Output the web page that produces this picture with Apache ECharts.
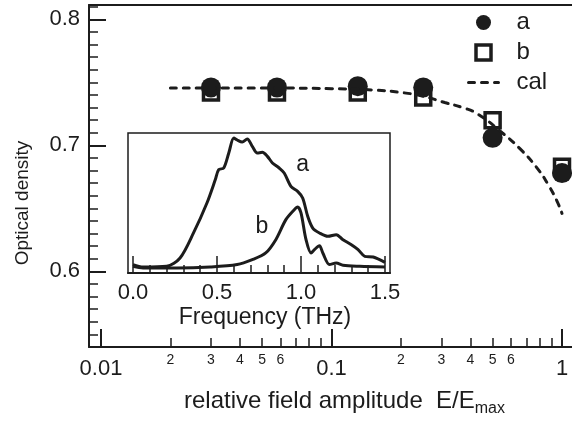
<!DOCTYPE html>
<html>
<head>
<meta charset="utf-8">
<script src="https://cdn.jsdelivr.net/npm/echarts@6/dist/echarts.min.js"></script>
<style>
  html, body { margin: 0; padding: 0; background: #fff; }
  #chart { width: 572px; height: 422px; }
</style>
</head>
<body>
<div id="chart"></div>
<script>
// main plot: optical density vs relative field amplitude
const fieldAmp = [0.03, 0.058, 0.13, 0.25, 0.5, 1.0];
const odA = [0.746, 0.746, 0.747, 0.746, 0.706, 0.678];
const odB = [0.742, 0.742, 0.742, 0.738, 0.720, 0.683];
const calAmp = [0.02, 0.05, 0.1, 0.15, 0.2, 0.25, 0.31, 0.37, 0.43, 0.55, 0.66, 0.78, 0.87, 0.95, 1.0];
const calOd = [0.7455, 0.7455, 0.745, 0.744, 0.742, 0.739, 0.734, 0.730, 0.725, 0.710, 0.697, 0.682, 0.669, 0.656, 0.646];

// inset: spectra
const freqA = [0.0, 0.06, 0.2, 0.28, 0.36, 0.44, 0.49, 0.51, 0.54, 0.57, 0.6, 0.62, 0.65, 0.68, 0.71, 0.74, 0.77, 0.8, 0.83, 0.87, 0.9, 0.94, 0.98, 1.01, 1.04, 1.07, 1.11, 1.16, 1.21, 1.25, 1.3, 1.34, 1.38, 1.43, 1.5];
const specA = [0.06, 0.043, 0.048, 0.107, 0.286, 0.5, 0.667, 0.738, 0.75, 0.857, 0.964, 0.95, 0.935, 0.957, 0.905, 0.857, 0.862, 0.833, 0.786, 0.75, 0.714, 0.619, 0.583, 0.536, 0.405, 0.321, 0.286, 0.262, 0.274, 0.238, 0.202, 0.167, 0.119, 0.114, 0.076];
const freqB = [0.0, 0.06, 0.26, 0.46, 0.62, 0.71, 0.79, 0.85, 0.91, 0.96, 0.98, 1.0, 1.03, 1.06, 1.08, 1.11, 1.13, 1.17, 1.21, 1.25, 1.35, 1.5];
const specB = [0.048, 0.036, 0.036, 0.043, 0.06, 0.095, 0.143, 0.238, 0.381, 0.452, 0.471, 0.43, 0.238, 0.143, 0.167, 0.195, 0.143, 0.06, 0.071, 0.055, 0.048, 0.043];

// ticks
const ampMajorTicks = [0.01, 0.1, 1];
const ampMinorTicks = [0.02, 0.03, 0.04, 0.05, 0.06, 0.07, 0.08, 0.09, 0.2, 0.3, 0.4, 0.5, 0.6, 0.7, 0.8, 0.9];
const ampMinorLabels = [0.02, 0.03, 0.04, 0.05, 0.06, 0.2, 0.3, 0.4, 0.5, 0.6];
const odMajorTicks = [0.6, 0.7, 0.8];
const odMinorTicks = [0.55, 0.56, 0.57, 0.58, 0.59, 0.61, 0.62, 0.63, 0.64, 0.65, 0.66, 0.67, 0.68, 0.69, 0.71, 0.72, 0.73, 0.74, 0.75, 0.76, 0.77, 0.78, 0.79, 0.81];
const freqMajorTicks = [0, 0.5, 1.0, 1.5];
const freqMinorTicks = [0.1, 0.2, 0.3, 0.4, 0.6, 0.7, 0.8, 0.9, 1.1, 1.2, 1.3, 1.4];

const ink = '#1c1c1c';
const font = 'Liberation Sans, Arial, sans-serif';

function pairs(xs, ys) {
  return xs.map((x, i) => [x, ys[i]]);
}

const chart = echarts.init(document.getElementById('chart'));

const ampRange = { type: 'log', logBase: 10, min: 0.00887, max: 1.105, gridIndex: 0 };
const calDash = { color: ink, width: 3, type: [6, 7], cap: 'round' };

chart.setOption({
  animation: false,
  backgroundColor: '#fff',
  textStyle: { fontFamily: font, color: ink },
  grid: [
    { left: 89, top: 5, right: 0, bottom: 74 },
    { left: 128, top: 133, width: 262, height: 140, show: true, backgroundColor: '#fff', borderColor: ink, borderWidth: 1.5 }
  ],
  legend: {
    data: [
      { name: 'a' },
      { name: 'b', icon: 'path://M0,0L10,0L10,10L0,10Z', itemStyle: { color: '#fff', borderColor: ink, borderWidth: 3.5 } },
      { name: 'cal', lineStyle: calDash }
    ],
    orient: 'vertical',
    left: 467, top: 9, padding: 0,
    itemWidth: 30, itemHeight: 15, itemGap: 3,
    symbolKeepAspect: true,
    textStyle: { fontSize: 24, lineHeight: 27, color: ink, fontFamily: font, padding: [0, 0, 0, 13] }
  },
  xAxis: [
    Object.assign({}, ampRange, {
      position: 'bottom',
      axisLine: { show: true, lineStyle: { color: ink, width: 2 } },
      axisTick: { show: true, inside: true, length: 18, customValues: ampMajorTicks, lineStyle: { color: ink, width: 2 } },
      axisLabel: { show: true, customValues: ampMajorTicks, fontSize: 22, color: ink, margin: 11,
        formatter: v => (v >= 1 ? '1' : String(+v.toPrecision(1))) },
      splitLine: { show: false },
      name: '{n|relative field amplitude  E/E}{s|max}',
      nameLocation: 'middle', nameGap: 39,
      nameTextStyle: { padding: [0, 0, 0, 28],
        rich: { n: { fontSize: 24, color: ink, fontFamily: font }, s: { fontSize: 16, color: ink, fontFamily: font, padding: [15, 0, 0, 0] } } }
    }),
    Object.assign({}, ampRange, {
      position: 'bottom',
      axisLine: { show: false },
      axisTick: { show: true, inside: true, length: 9, customValues: ampMinorTicks, lineStyle: { color: ink, width: 1.5 } },
      axisLabel: { show: true, customValues: ampMinorLabels, fontSize: 14, color: ink, margin: 6,
        formatter: v => String(Math.round(v / Math.pow(10, Math.floor(Math.log10(v) + 1e-9)))) },
      splitLine: { show: false }
    }),
    Object.assign({}, ampRange, {
      position: 'top',
      axisLine: { show: true, lineStyle: { color: ink, width: 2 } },
      axisTick: { show: false }, axisLabel: { show: false }, splitLine: { show: false }
    }),
    {
      type: 'value', gridIndex: 1, min: -0.03, max: 1.53, position: 'bottom',
      axisLine: { show: true, lineStyle: { color: ink, width: 2 } },
      axisTick: { show: true, inside: true, length: 17, customValues: freqMajorTicks, lineStyle: { color: ink, width: 1.5 } },
      axisLabel: { show: true, customValues: freqMajorTicks, fontSize: 22, color: ink, margin: 9, formatter: v => v.toFixed(1) },
      splitLine: { show: false },
      name: 'Frequency (THz)', nameLocation: 'middle', nameGap: 33,
      nameTextStyle: { fontSize: 23, color: ink, padding: [0, 0, 0, 12] }
    },
    {
      type: 'value', gridIndex: 1, min: -0.03, max: 1.53, position: 'bottom',
      axisLine: { show: false },
      axisTick: { show: true, inside: true, length: 8, customValues: freqMinorTicks, lineStyle: { color: ink, width: 1.5 } },
      axisLabel: { show: false }, splitLine: { show: false }
    }
  ],
  yAxis: [
    {
      type: 'value', gridIndex: 0, min: 0.54, max: 0.8114, position: 'left',
      axisLine: { show: true, lineStyle: { color: ink, width: 2 } },
      axisTick: { show: true, inside: true, length: 17, customValues: odMajorTicks, lineStyle: { color: ink, width: 2 } },
      axisLabel: { show: true, customValues: odMajorTicks, fontSize: 22, color: ink, margin: 9, formatter: v => v.toFixed(1) },
      splitLine: { show: false },
      name: 'Optical density', nameLocation: 'middle', nameGap: 57,
      nameTextStyle: { fontSize: 19, color: ink, padding: [0, 54, 0, 0] }
    },
    {
      type: 'value', gridIndex: 0, min: 0.54, max: 0.8114, position: 'left',
      axisLine: { show: false },
      axisTick: { show: true, inside: true, length: 9, customValues: odMinorTicks, lineStyle: { color: ink, width: 1.5 } },
      axisLabel: { show: false }, splitLine: { show: false }
    },
    { type: 'value', gridIndex: 1, min: 0, max: 1, show: false }
  ],
  series: [
    {
      name: 'b', type: 'scatter', xAxisIndex: 0, yAxisIndex: 0,
      data: pairs(fieldAmp, odB), symbol: 'rect', symbolSize: 15,
      itemStyle: { color: '#fff', borderColor: ink, borderWidth: 3.5, opacity: 1 }
    },
    {
      name: 'cal', type: 'line', xAxisIndex: 0, yAxisIndex: 0,
      data: pairs(calAmp, calOd), symbol: 'none', smooth: true,
      lineStyle: calDash,
      itemStyle: { color: 'rgba(0,0,0,0)', borderWidth: 0 }
    },
    {
      name: 'a', type: 'scatter', xAxisIndex: 0, yAxisIndex: 0,
      data: pairs(fieldAmp, odA), symbol: 'circle', symbolSize: 20,
      itemStyle: { color: ink, opacity: 1 }
    },
    {
      name: 'spectrum a', type: 'line', xAxisIndex: 3, yAxisIndex: 2,
      data: pairs(freqA, specA), symbol: 'none', smooth: 0.3,
      lineStyle: { color: ink, width: 3 },
      markPoint: { symbol: 'circle', symbolSize: 0, label: { show: true, formatter: 'a', fontSize: 23, color: ink },
        data: [{ coord: [1.01, 0.774] }] }
    },
    {
      name: 'spectrum b', type: 'line', xAxisIndex: 3, yAxisIndex: 2,
      data: pairs(freqB, specB), symbol: 'none', smooth: 0.3,
      lineStyle: { color: ink, width: 3 },
      markPoint: { symbol: 'circle', symbolSize: 0, label: { show: true, formatter: 'b', fontSize: 23, color: ink },
        data: [{ coord: [0.767, 0.33] }] }
    }
  ]
});
</script>
</body>
</html>
